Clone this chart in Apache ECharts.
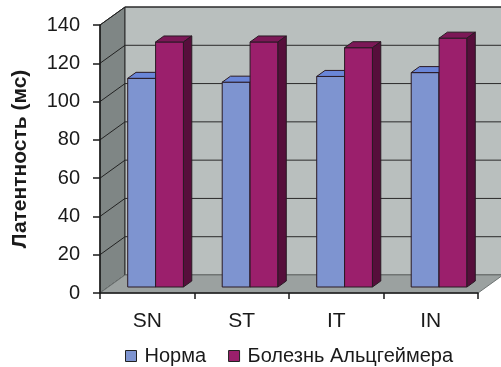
<!DOCTYPE html>
<html>
<head>
<meta charset="utf-8">
<script src="https://cdn.jsdelivr.net/npm/echarts@6/dist/echarts.min.js"></script>
<style>
  html, body { margin: 0; padding: 0; background: #ffffff; }
  #chart { width: 501px; height: 367px; }
</style>
</head>
<body>
<div id="chart"></div>
<script>
// Latency by test condition, two groups
const categories = ['SN', 'ST', 'IT', 'IN'];
const seriesNames = ['Норма', 'Болезнь Альцгеймера'];
const normaValues = [109, 107, 110, 112];
const alzheimerValues = [128, 128, 125, 130];
const yMin = 0, yMax = 140, yStep = 20;

// Pseudo-3D depth of the plot box (pixels), bars occupy the middle third
const DX = 25, DY = -18;

const palettes = [
  { front: '#7e94d0', top: '#6a86d8', side: '#4f64a8' },
  { front: '#9b1f6c', top: '#7c1857', side: '#560e3b' }
];
const edge = '#2a1a24';

function wallsItem(params, api) {
  const cs = params.coordSys;
  const x = cs.x, y = cs.y, w = cs.width, h = cs.height;
  const children = [];
  // side wall
  children.push({ type: 'polygon', shape: { points: [[x, y + h], [x, y], [x + DX, y + DY], [x + DX, y + h + DY]] },
    style: { fill: '#7f8685', stroke: '#2a2a2a', lineWidth: 1 } });
  // back wall
  children.push({ type: 'rect', shape: { x: x + DX, y: y + DY, width: w + 4, height: h },
    style: { fill: '#b9bfbe', stroke: '#2a2a2a', lineWidth: 1 } });
  // floor
  children.push({ type: 'polygon', shape: { points: [[x, y + h], [x + w, y + h], [x + w + DX, y + h + DY], [x + DX, y + h + DY]] },
    style: { fill: '#9ba1a0', stroke: '#6e7473', lineWidth: 1 } });
  // grid lines on side wall and back wall
  for (let v = yMin + yStep; v <= yMax; v += yStep) {
    const py = api.coord([0, v])[1];
    children.push({ type: 'line', shape: { x1: x, y1: py, x2: x + DX, y2: py + DY },
      style: { stroke: '#222222', lineWidth: 1 } });
    children.push({ type: 'line', shape: { x1: x + DX, y1: py + DY, x2: x + w + DX + 4, y2: py + DY },
      style: { stroke: '#2a2a2a', lineWidth: 1 } });
  }
  return { type: 'group', children: children };
}

function barRenderer(idx) {
  const pal = palettes[idx];
  return function (params, api) {
    const cat = api.value(0), val = api.value(1);
    const base = api.coord([cat, 0]);
    const top = api.coord([cat, val]);
    const band = api.size([1, 0])[0];
    const bw = band * 0.295;
    const ox = DX / 3, oy = DY / 3;
    const x0 = base[0] - bw + idx * bw + ox;
    const x1 = x0 + bw;
    const yb = base[1] + oy;
    const yt = top[1] + oy;
    return {
      type: 'group',
      children: [
        { type: 'rect', shape: { x: x0, y: yt, width: bw, height: yb - yt },
          style: { fill: pal.front, stroke: edge, lineWidth: 1 } },
        { type: 'polygon', shape: { points: [[x0, yt], [x1, yt], [x1 + ox, yt + oy], [x0 + ox, yt + oy]] },
          style: { fill: pal.top, stroke: edge, lineWidth: 1 } },
        { type: 'polygon', shape: { points: [[x1, yt], [x1 + ox, yt + oy], [x1 + ox, yb + oy], [x1, yb]] },
          style: { fill: pal.side, stroke: edge, lineWidth: 1 } }
      ]
    };
  };
}

const chart = echarts.init(document.getElementById('chart'), null, { renderer: 'canvas' });
const font = '"Liberation Sans", Arial, sans-serif';

chart.setOption({
  animation: false,
  backgroundColor: '#ffffff',
  grid: { left: 100, right: 23, top: 25, bottom: 74 },
  legend: {
    data: seriesNames,
    left: 120, top: 341,
    icon: 'rect', itemWidth: 11, itemHeight: 11, itemGap: 22,
    itemStyle: { borderColor: '#222222', borderWidth: 1 },
    textStyle: { fontFamily: font, fontSize: 20, color: '#1a1a1a', padding: [0, 0, 0, 3] }
  },
  xAxis: {
    type: 'category', data: categories, z: 6,
    axisLine: { lineStyle: { color: '#1a1a1a', width: 1.5 } },
    axisTick: { show: true, length: 6, lineStyle: { color: '#1a1a1a', width: 1.5 } },
    axisLabel: { fontFamily: font, fontSize: 21, color: '#1a1a1a', margin: 18 },
    splitLine: { show: false }
  },
  yAxis: {
    type: 'value', min: yMin, max: yMax, interval: yStep, z: 6,
    name: 'Латентность (мс)', nameLocation: 'middle', nameGap: 69,
    nameTextStyle: { fontFamily: font, fontSize: 21, fontWeight: 'bold', color: '#1a1a1a' },
    axisLine: { show: true, lineStyle: { color: '#1a1a1a', width: 1.5 } },
    axisTick: { show: true, length: 7, lineStyle: { color: '#1a1a1a', width: 1.5 } },
    axisLabel: { fontFamily: font, fontSize: 20, color: '#1a1a1a', margin: 20 },
    splitLine: { show: false }
  },
  series: [
    { type: 'custom', name: 'walls', z: 1, silent: true, renderItem: wallsItem, data: [[0, 0]] },
    { type: 'custom', name: seriesNames[0], z: 3, renderItem: barRenderer(0),
      itemStyle: { color: palettes[0].front },
      data: categories.map((c, i) => [i, normaValues[i]]) },
    { type: 'custom', name: seriesNames[1], z: 3, renderItem: barRenderer(1),
      itemStyle: { color: palettes[1].front },
      data: categories.map((c, i) => [i, alzheimerValues[i]]) }
  ]
});
</script>
</body>
</html>
